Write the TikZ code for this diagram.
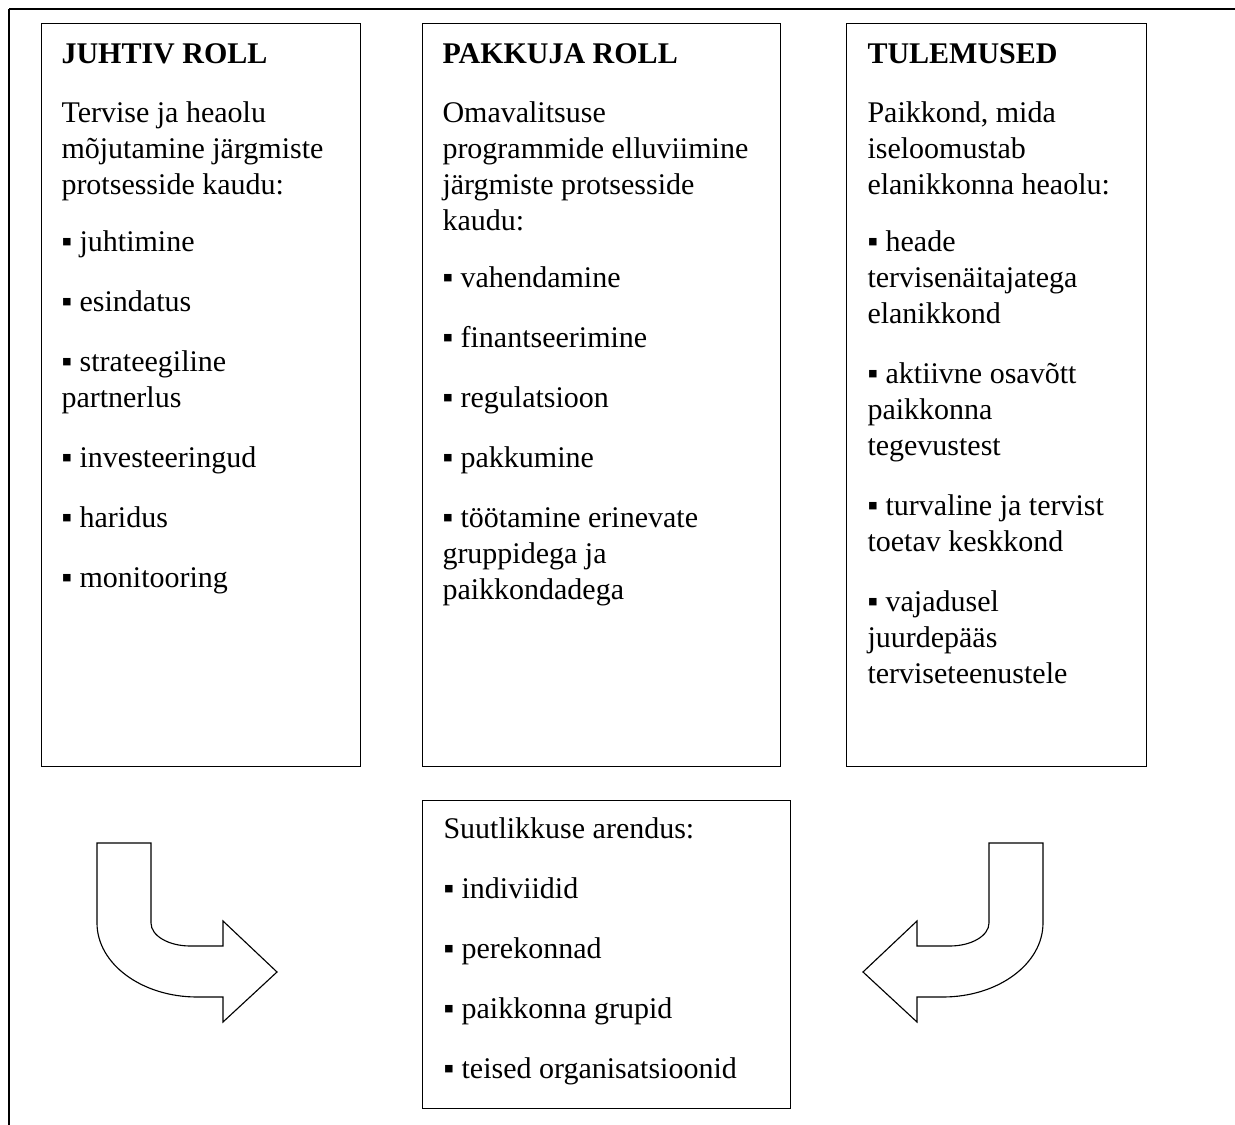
\documentclass[tikz,border=0pt]{standalone}
\usepackage{fontspec}
\setmainfont{Liberation Serif}
\usetikzlibrary{positioning}
\definecolor{frameline}{RGB}{0,0,0}
\newcommand{\bentpath}{(97,843) -- (151,843) -- (151,923) .. controls (151,936) and (169,946) .. (190,946) -- (223,946) -- (223,921) -- (277,972) -- (223,1022) -- (223,997) -- (197,997) .. controls (142,997) and (97,964) .. (97,923) -- cycle}

\begin{document}
\begin{tikzpicture}[
    x=0.4pt, y=-0.4pt,
    box/.style={rectangle, draw=frameline, line width=0.45pt, inner sep=0pt, anchor=north west},
    txt/.style={anchor=north west, inner sep=0pt, align=left,
                font=\fontsize{12}{14.4}\selectfont},
    bent/.style={draw=frameline, line width=0.45pt, fill=white, line join=miter}
]
\useasboundingbox (0,0) rectangle (1235,1125);

% page frame, only its top and left edges are in view
\draw[line width=0.45pt, frameline] (9,9) -- (1235,9);
\draw[line width=0.45pt, frameline] (9,9) -- (9,1125);

\node[box, minimum width=127.6pt, minimum height=297.2pt] (lead) at (41,23) {};
\node[box, minimum width=143.2pt, minimum height=297.2pt] (provider) at (422,23) {};
\node[box, minimum width=120pt, minimum height=297.2pt] (outcome) at (846,23) {};
\node[box, minimum width=147.2pt, minimum height=123.2pt] (capacity) at (422,800) {};

\node[txt] (leadtxt) at ([shift={(20,15)}]lead.north west) {\strut\textbf{JUHTIV ROLL}\\[9.2pt]
Tervise ja heaolu\\
mõjutamine järgmiste\\
protsesside kaudu:\\[8.4pt]
▪ juhtimine\\[9.6pt]
▪ esindatus\\[9.6pt]
▪ strateegiline\\
partnerlus\\[9.6pt]
▪ investeeringud\\[9.6pt]
▪ haridus\\[9.6pt]
▪ monitooring};

\node[txt] (providertxt) at ([shift={(20,15)}]provider.north west) {\strut\textbf{PAKKUJA ROLL}\\[9.2pt]
Omavalitsuse\\
programmide elluviimine\\
järgmiste protsesside\\
kaudu:\\[8.4pt]
▪ vahendamine\\[9.6pt]
▪ finantseerimine\\[9.6pt]
▪ regulatsioon\\[9.6pt]
▪ pakkumine\\[9.6pt]
▪ töötamine erinevate\\
gruppidega ja\\
paikkondadega};

\node[txt] (outcometxt) at ([shift={(21,15)}]outcome.north west) {\strut\textbf{TULEMUSED}\\[9.2pt]
Paikkond, mida\\
iseloomustab\\
elanikkonna heaolu:\\[8.4pt]
▪ heade\\
tervisenäitajatega\\
elanikkond\\[9.6pt]
▪ aktiivne osavõtt\\
paikkonna\\
tegevustest\\[9.6pt]
▪ turvaline ja tervist\\
toetav keskkond\\[9.6pt]
▪ vajadusel\\
juurdepääs\\
terviseteenustele};

\node[txt] (capacitytxt) at ([shift={(21,13)}]capacity.north west) {\strut Suutlikkuse arendus:\\[9.6pt]
▪ indiviidid\\[9.6pt]
▪ perekonnad\\[9.6pt]
▪ paikkonna grupid\\[9.6pt]
▪ teised organisatsioonid};

% block arrows towards the capacity box
\draw[bent] \bentpath;
\begin{scope}[shift={(1140,0)}, xscale=-1]
\draw[bent] \bentpath;
\end{scope}

\end{tikzpicture}
\end{document}
